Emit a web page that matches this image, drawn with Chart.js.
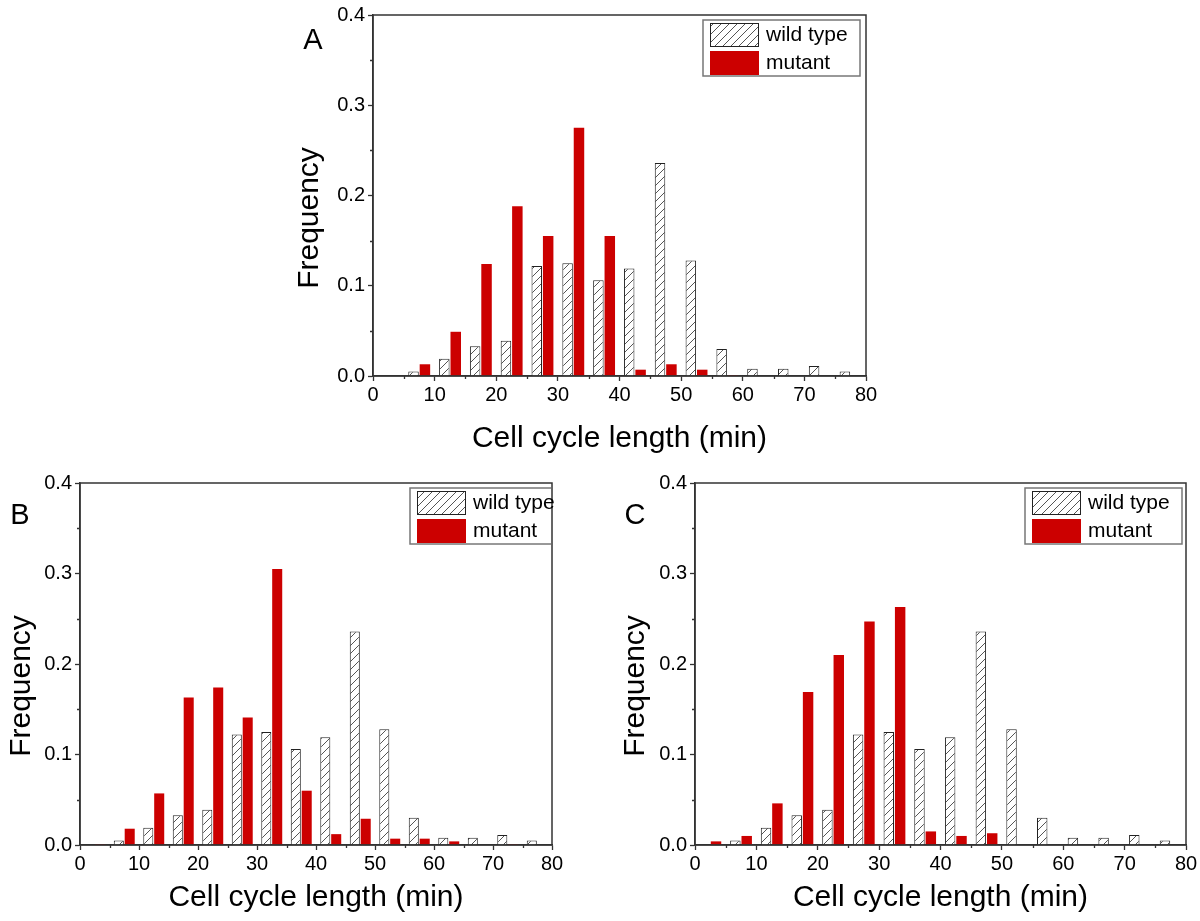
<!DOCTYPE html>
<html lang="en">
<head>
<meta charset="UTF-8">
<title>Cell cycle length histograms</title>
<script src="https://cdn.jsdelivr.net/npm/chart.js"></script>
<style>
  body { margin: 0; background: #fff; width: 1200px; height: 921px; position: relative; overflow: hidden; }
  canvas { position: absolute; }
</style>
</head>
<body>
<canvas id="chartA" width="620" height="460" style="left:273px;top:0px"></canvas>
<canvas id="chartB" width="580" height="453" style="left:0px;top:468px"></canvas>
<canvas id="chartC" width="600" height="453" style="left:600px;top:468px"></canvas>
<script>
// histogram bins (min), centre of each 5 min bin
var binCenters = [2.5, 7.5, 12.5, 17.5, 22.5, 27.5, 32.5, 37.5, 42.5, 47.5, 52.5, 57.5, 62.5, 67.5, 72.5, 77.5];
// same wild type distribution in every panel
var wildType = [null, 0.005, 0.019, 0.033, 0.039, 0.122, 0.125, 0.106, 0.119, 0.236, 0.128, 0.030, 0.008, 0.008, 0.011, 0.005];
var mutantA  = [0, 0.013, 0.049, 0.124, 0.188, 0.155, 0.275, 0.155, 0.007, 0.013, 0.007, 0.001, 0, 0, 0, 0];
var mutantB  = [0.001, 0.018, 0.057, 0.163, 0.174, 0.141, 0.305, 0.060, 0.012, 0.029, 0.007, 0.007, 0.004, 0, 0.001, 0];
var mutantC  = [0.004, 0.010, 0.046, 0.169, 0.210, 0.247, 0.263, 0.015, 0.010, 0.013, 0, 0, 0, 0, 0, 0];
var xMinorTicks = [5, 15, 25, 35, 45, 55, 65, 75];
var yMinorTicks = [0.05, 0.15, 0.25, 0.35];

var FONT = '"Liberation Sans", Arial, sans-serif';
Chart.defaults.font.family = FONT;
Chart.defaults.color = '#000';

// diagonal hatch like Origin's "///" fill
function hatch() {
    var n = 8;
    var c = document.createElement('canvas');
    c.width = n; c.height = n;
    var g = c.getContext('2d');
    g.fillStyle = '#fff';
    g.fillRect(0, 0, n, n);
    g.strokeStyle = '#555';
    g.lineWidth = 1;
    g.beginPath();
    g.moveTo(-1, n + 1); g.lineTo(n + 1, -1);
    g.moveTo(-1, 1); g.lineTo(1, -1);
    g.moveTo(n - 1, n + 1); g.lineTo(n + 1, n - 1);
    g.stroke();
    return g.createPattern(c, 'repeat');
}

var panelDecor = {
    id: 'panelDecor',
    afterDraw: function(chart, args, opts) {
        var ctx = chart.ctx, a = chart.chartArea;
        var xs = chart.scales.x, ys = chart.scales.y;
        ctx.save();
        // box round the plot
        ctx.strokeStyle = '#333';
        ctx.lineWidth = 1.5;
        ctx.strokeRect(a.left, a.top, a.right - a.left, a.bottom - a.top);

        // minor ticks, shorter than the major ones
        ctx.lineWidth = 1.3;
        ctx.beginPath();
        xMinorTicks.forEach(function(v) {
            var px = Math.round(xs.getPixelForValue(v)) + 0.5;
            ctx.moveTo(px, a.bottom); ctx.lineTo(px, a.bottom + 3);
        });
        yMinorTicks.forEach(function(v) {
            var py = Math.round(ys.getPixelForValue(v)) + 0.5;
            ctx.moveTo(a.left, py); ctx.lineTo(a.left - 3, py);
        });
        ctx.stroke();

        ctx.fillStyle = '#000';
        ctx.textAlign = 'center';
        ctx.textBaseline = 'middle';
        ctx.font = '29px ' + FONT;
        ctx.fillText(opts.letter, a.left - 60, a.top + opts.letterY);

        ctx.save();
        ctx.translate(a.left + opts.titleX, a.top + 203);
        ctx.rotate(-Math.PI / 2);
        ctx.font = '30px ' + FONT;
        ctx.fillText('Frequency', 0, 0);
        ctx.restore();

        // legend box
        var bx = a.left + 330, by = a.top + 5, bw = 157, bh = 56;
        ctx.save();
        ctx.beginPath();
        ctx.rect(a.left, a.top, a.right - a.left - 1, a.bottom - a.top);
        ctx.clip();
        ctx.strokeStyle = '#777';
        ctx.lineWidth = 1.5;
        ctx.strokeRect(bx, by, bw, bh);
        ctx.restore();

        chart.data.datasets.forEach(function(ds, i) {
            var sy = by + 3 + i * 28;
            ctx.fillStyle = ds.backgroundColor;
            ctx.fillRect(bx + 7, sy, 49, 24);
            if (ds.borderWidth) {
                ctx.strokeStyle = ds.borderColor;
                ctx.lineWidth = 1;
                ctx.strokeRect(bx + 7.5, sy + 0.5, 48, 23);
            }
            ctx.fillStyle = '#000';
            ctx.textAlign = 'left';
            ctx.font = '21px ' + FONT;
            ctx.fillText(ds.label, bx + 63, sy + 12);
        });
        ctx.restore();
    }
};

function makePanel(id, mutant, p) {
    var pattern = hatch();
    return new Chart(document.getElementById(id), {
        type: 'bar',
        data: {
            datasets: [{
                label: 'wild type',
                data: binCenters.map(function(x, i) { return { x: x, y: wildType[i] }; }),
                backgroundColor: pattern,
                borderColor: '#222',
                borderWidth: 1,
                borderSkipped: 'bottom'
            }, {
                label: 'mutant',
                data: binCenters.map(function(x, i) { return { x: x, y: mutant[i] }; }),
                backgroundColor: '#cc0000',
                borderWidth: 0
            }]
        },
        options: {
            responsive: false,
            animation: false,
            categoryPercentage: 0.74,
            barPercentage: 0.92,
            layout: { padding: { left: 0, top: p.top, right: p.right, bottom: 0 } },
            plugins: {
                legend: { display: false },
                tooltip: { enabled: false },
                panelDecor: { letter: p.letter, letterY: p.letterY, titleX: p.titleX }
            },
            scales: {
                x: {
                    type: 'linear',
                    min: 0, max: 80,
                    offset: false,
                    afterFit: function(s) { s.height = p.xH; },
                    grid: { offset: false, drawOnChartArea: false, tickLength: 5, tickColor: '#333', tickWidth: 1.3 },
                    border: { color: '#333', width: 1.5 },
                    ticks: { stepSize: 10, autoSkip: false, maxRotation: 0, padding: 2, font: { size: 20 } },
                    title: { display: true, text: 'Cell cycle length (min)', font: { size: 30 }, padding: { top: 0, bottom: p.titlePad } }
                },
                y: {
                    min: 0, max: 0.4,
                    afterFit: function(s) { s.width = p.yW; },
                    grid: { drawOnChartArea: false, tickLength: 5, tickColor: '#333', tickWidth: 1.3 },
                    border: { color: '#333', width: 1.5 },
                    ticks: {
                        stepSize: 0.1, autoSkip: false, padding: 3, font: { size: 20 },
                        callback: function(v) { return v.toFixed(1); }
                    }
                }
            }
        },
        plugins: [panelDecor]
    });
}

makePanel('chartA', mutantA, { letter: 'A', letterY: 26, titleX: -63, top: 11, right: 27, xH: 84, yW: 100, titlePad: 3 });
makePanel('chartB', mutantB, { letter: 'B', letterY: 33, titleX: -58, top: 11, right: 28, xH: 76, yW: 80, titlePad: 5 });
makePanel('chartC', mutantC, { letter: 'C', letterY: 33, titleX: -59, top: 11, right: 14, xH: 76, yW: 95, titlePad: 5 });
</script>
</body>
</html>
